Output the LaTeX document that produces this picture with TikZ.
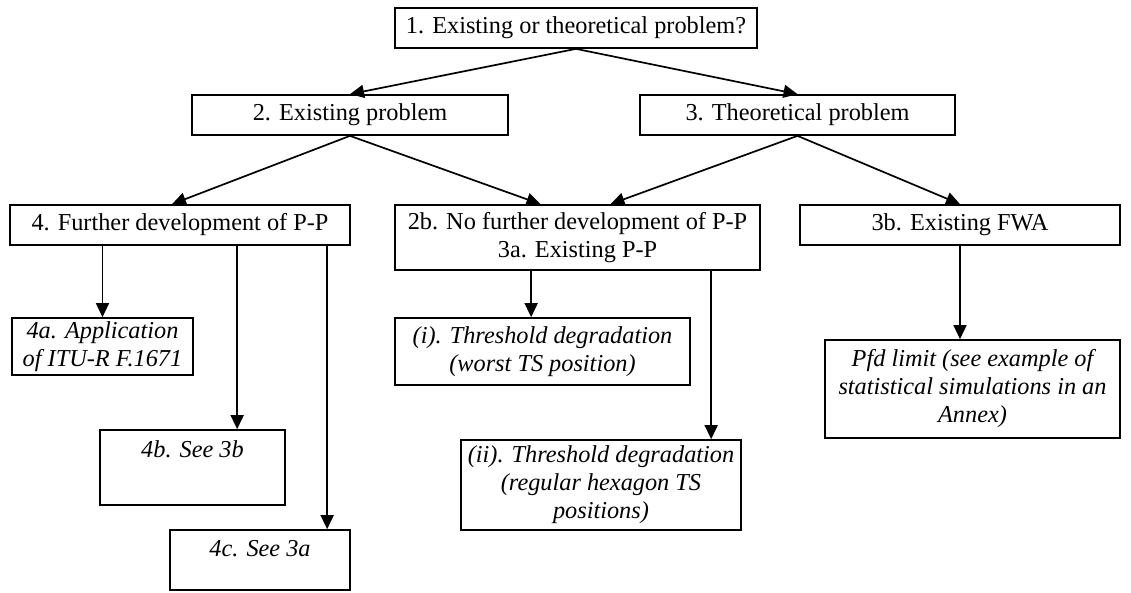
\documentclass[tikz,border=0pt]{standalone}
\usepackage{fontspec}
\setmainfont{Liberation Serif}
\usetikzlibrary{arrows.meta}
\begin{document}
\begin{tikzpicture}[x=1pt,y=-1pt,
  box/.style={draw, line width=1.7pt, inner sep=0pt, align=center,
    font=\fontsize{24.3}{28}\selectfont},
  ibox/.style={box, font=\fontsize{24.3}{28}\selectfont\itshape},
  arr/.style={line width=1.7pt, -{Triangle[length=14pt,width=13pt]}}]
\useasboundingbox (0,0) rectangle (1131,592);
\node[box, minimum width=362pt, minimum height=40pt] (b1) at (576,28) {1. Existing or theoretical problem?};
\node[box, minimum width=316pt, minimum height=40pt] (b2) at (350,115) {2. Existing problem};
\node[box, minimum width=315pt, minimum height=40pt] (b3) at (797.5,115) {3. Theoretical problem};
\node[box, minimum width=340pt, minimum height=40pt] (b4) at (180,225) {4. Further development of P-P};
\node[box, minimum width=365pt, minimum height=65pt] (b2b) at (577.5,237.5) {2b. No further development of P-P\\3a. Existing P-P};
\node[box, minimum width=320pt, minimum height=40pt] (b3b) at (960,225) {3b. Existing FWA};
\node[ibox, minimum width=181pt, minimum height=57pt] (b4a) at (102.5,346.5) {4a. Application\\of ITU-R F.1671};
\node[ibox, minimum width=295pt, minimum height=67pt] (bi) at (542.5,351.5) {(i). Threshold degradation\\(worst TS position)};
\node[ibox, minimum width=295pt, minimum height=98pt] (bpfd) at (972.5,389) {Pfd limit (see example of\\statistical simulations in an\\Annex)};
\node[box, minimum width=185pt, minimum height=75pt,
  label={[ibox, draw=none, anchor=north, yshift=-11pt]north:4b. See 3b}] (b4b) at (192.5,467.5) {};
\node[ibox, minimum width=280pt, minimum height=90pt] (bii) at (601,485) {(ii). Threshold degradation\\(regular hexagon TS\\positions)};
\node[box, minimum width=180pt, minimum height=60pt,
  label={[ibox, draw=none, anchor=north, yshift=-10pt]north:4c. See 3a}] (b4c) at (260,560) {};
\draw[arr] (b1.south) -- (b2.north);
\draw[arr] (b1.south) -- (b3.north);
\draw[arr] (b2.south) -- ([xshift=-8pt]b4.north);
\draw[arr] (b2.south) -- ([xshift=-37pt]b2b.north);
\draw[arr] (b3.south) -- ([xshift=33pt]b2b.north);
\draw[arr] (b3.south) -- (b3b.north);
\draw[arr] (b4a.north |- b4.south) -- (b4a.north);
\draw[arr] ([xshift=228pt]b4.south west) -- ([xshift=228pt]b4.south west |- b4b.north);
\draw[arr] ([xshift=318pt]b4.south west) -- ([xshift=318pt]b4.south west |- b4c.north);
\draw[arr] ([xshift=137pt]b2b.south west) -- ([xshift=137pt]b2b.south west |- bi.north);
\draw[arr] ([xshift=317pt]b2b.south west) -- ([xshift=317pt]b2b.south west |- bii.north);
\draw[arr] (b3b.south) -- (b3b.south |- bpfd.north);
\end{tikzpicture}
\end{document}
